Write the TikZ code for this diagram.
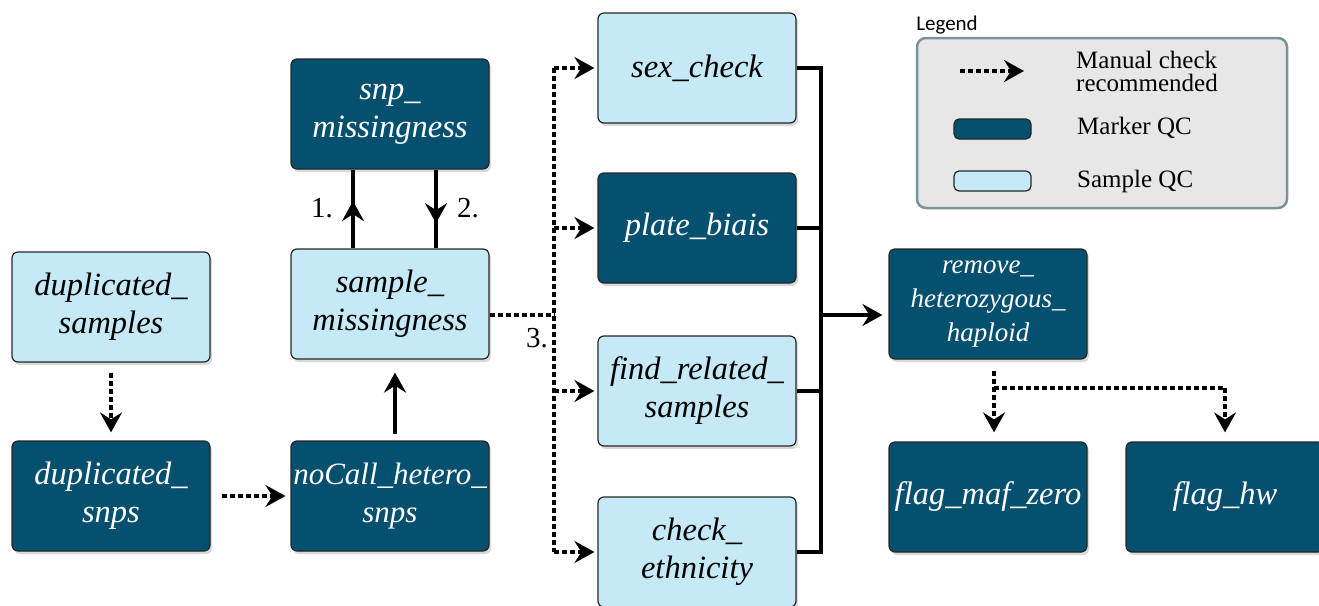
\documentclass[tikz,border=0pt]{standalone}
\usepackage{fontspec}
\setmainfont{Liberation Serif}
\newfontfamily\legendfont{Carlito}
\usetikzlibrary{arrows.meta,shadows,calc,decorations.markings}

\definecolor{darkbox}{HTML}{05506F}
\definecolor{lightbox}{HTML}{C5E9F7}
\definecolor{legfill}{HTML}{E7E7E7}
\definecolor{legborder}{HTML}{7D909A}

\tikzset{
  qcbox/.style={draw=black!85, line width=1.2pt, rounded corners=6pt,
    minimum width=198pt, minimum height=110pt, inner sep=0pt, align=center,
    font=\fontsize{32.5}{38}\selectfont\itshape,
    drop shadow={shadow xshift=2pt, shadow yshift=-3pt, opacity=0.3}},
  markerbox/.style={qcbox, fill=darkbox, text=white},
  samplebox/.style={qcbox, fill=lightbox, text=black},
  conn/.style={line width=4pt},
  solidarrow/.style={conn, -{Stealth[length=20pt,width=22pt,inset=7pt]}},
  dotline/.style={conn, dash pattern=on 5pt off 3pt},
  dotarrow/.style={dotline, -{Stealth[length=20pt,width=22pt,inset=7pt]}},
  numlabel/.style={font=\fontsize{29}{30}\selectfont, inner sep=0pt},
  midarrow/.style={postaction={decorate}, decoration={markings, mark=at position #1 with {\arrow[line width=4pt]{Stealth[length=20pt,width=22pt,inset=7pt]}}}},
  legtext/.style={font=\fontsize{25}{23}\selectfont, inner sep=0pt, anchor=west, align=left},
  legswatch/.style={draw=black!85, line width=1.2pt, rounded corners=5pt, minimum width=77pt, minimum height=20pt, inner sep=0pt}
}

\begin{document}
\begin{tikzpicture}[x=1pt,y=-1pt]
\useasboundingbox (0,0) rectangle (1319,605);

% nodes
\node[samplebox] (dupS) at (111,307) {duplicated\_\\samples};
\node[markerbox] (dupN) at (111,496) {duplicated\_\\snps};
\node[markerbox, font=\fontsize{31}{38}\selectfont\itshape] (noCall) at (390,496) {noCall\_hetero\_\\snps};
\node[samplebox] (sampM) at (390,304) {sample\_\\missingness};
\node[markerbox] (snpM) at (390,114) {snp\_\\missingness};
\node[samplebox] (sex) at (697,68) {sex\_check};
\node[markerbox] (plate) at (697,228) {plate\_biais};
\node[samplebox] (find) at (697,391) {find\_related\_\\samples};
\node[samplebox] (eth) at (697,552) {check\_\\ethnicity};
\node[markerbox, font=\fontsize{27}{34}\selectfont\itshape] (remove) at (988,304) {remove\_\\heterozygous\_\\haploid};
\node[markerbox] (maf) at (988,497) {flag\_maf\_zero};
\node[markerbox] (hw) at (1225,497) {flag\_hw};

% left column
\draw[dotarrow] ([yshift=-10pt]dupS.south) -- ([yshift=8pt]dupN.north);
\draw[dotarrow] ([xshift=11pt]dupN.east) -- ([xshift=-5pt]noCall.west);
\draw[solidarrow] ([xshift=5pt,yshift=6pt]noCall.north) -- ([xshift=5pt,yshift=-13pt]sampM.south);

% snp missingness loop
\draw[conn, midarrow=0.6] ([xshift=-37pt]sampM.north) -- ([xshift=-37pt]snpM.south);
\draw[conn, midarrow=0.68] ([xshift=46pt]snpM.south) -- ([xshift=46pt]sampM.north);
\node[numlabel] (l1) at (322,208) {1.};
\node[numlabel] (l2) at (468,208) {2.};
\node[numlabel] (l3) at (537,338) {3.};

% dotted distribution bus
\coordinate (dbus) at (554,315);
\draw[dotline] ([yshift=-11pt]sampM.east) -- (dbus);
\draw[dotline] (dbus |- sex.west) -- (dbus |- eth.west);
\foreach \n in {sex,plate,find,eth}{
  \draw[dotarrow, shorten >=3pt] (dbus |- \n.west) -- (\n.west);
}

% solid collection bus
\coordinate (sbus) at (821,315);
\draw[conn] (sex.east) -- (sbus |- sex.east) -- (sbus |- eth.east) -- (eth.east);
\draw[conn] (plate.east) -- (sbus |- plate.east);
\draw[conn] (find.east) -- (sbus |- find.east);
\draw[solidarrow, shorten >=6pt] (sbus) -- (sbus -| remove.west);

% remove -> flags
\coordinate (fork) at (994,388);
\draw[dotarrow] ([xshift=6pt,yshift=-11pt]remove.south) -- ([xshift=6pt,yshift=9pt]maf.north);
\draw[dotline] (fork) -- (fork -| hw.north);
\draw[dotarrow] (fork -| hw.north) -- ([yshift=9pt]hw.north);

% legend
\node[font=\legendfont\fontsize{21}{22}\selectfont, inner sep=0pt] (legtitle) at (947,25) {Legend};
\node[draw=legborder, fill=legfill, line width=2.5pt, rounded corners=9pt,
      minimum width=370pt, minimum height=170pt] (leg) at (1102,123) {};
\coordinate (la1) at (960,71);
\coordinate (la2) at (1024,71);
\draw[dotarrow] (la1) -- (la2);
\node[legtext] (lt1) at (1076,71) {Manual check\\recommended};
\node[legswatch, fill=darkbox] (lsw1) at (992.5,129) {};
\node[legtext] (lt2) at (1077,128) {Marker QC};
\node[legswatch, fill=lightbox] (lsw2) at (992.5,181) {};
\node[legtext] (lt3) at (1077,181) {Sample QC};
\end{tikzpicture}
\end{document}
